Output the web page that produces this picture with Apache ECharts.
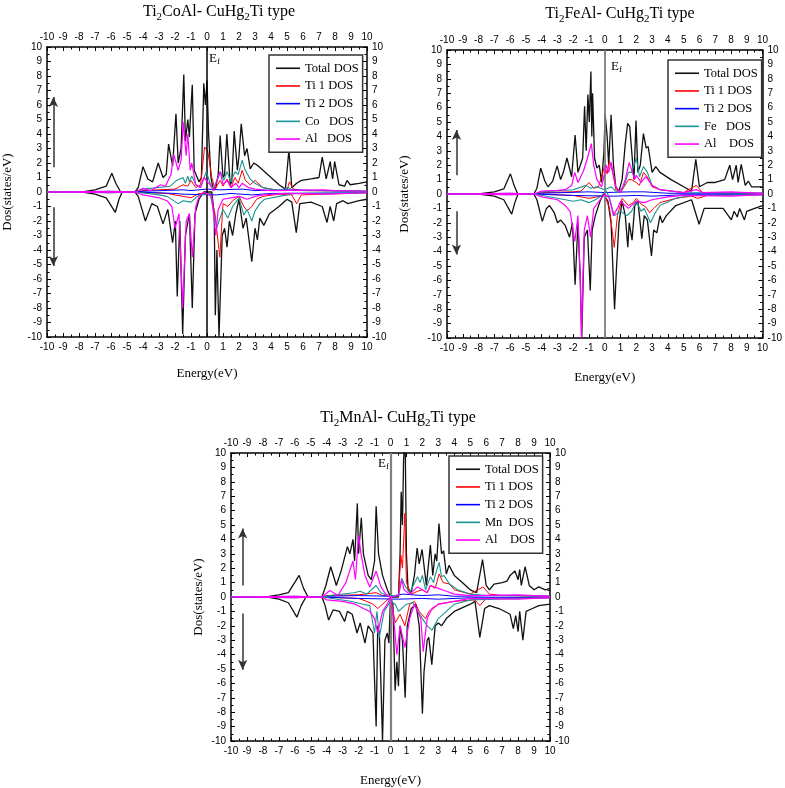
<!DOCTYPE html>
<html><head><meta charset="utf-8">
<script src="https://cdn.jsdelivr.net/npm/echarts@6/dist/echarts.min.js"></script>
<style>html,body{margin:0;padding:0;background:#fff}#c{width:785px;height:788px}</style>
</head><body><div id="c"></div>
<script>
// ---------- Ti2CoAl ----------
const coTotUp=[[-10,0],[-7.8,0],[-7,0.15],[-6.3,0.4],[-5.95,1.3],[-5.7,0.6],[-5.4,0],[-4.5,0],[-4.3,0.3],[-4.0,1.75],[-3.7,0.9],[-3.4,0.7],[-3.05,2.0],[-2.75,1.0],[-2.55,1.2],[-2.4,3.3],[-2.15,1.8],[-1.94,5.4],[-1.8,2.0],[-1.62,3.0],[-1.45,8.1],[-1.35,3.5],[-1.2,5.0],[-1.1,3.8],[-0.92,7.4],[-0.8,1.5],[-0.5,0.7],[-0.35,1.0],[-0.2,7.5],[-0.1,6.0],[0.0,7.7],[0.1,4.0],[0.25,1.0],[0.4,0.1],[0.55,0.3],[0.7,1.2],[0.82,3.9],[1.0,1.0],[1.1,1.2],[1.24,4.0],[1.45,0.5],[1.55,0.7],[1.7,4.2],[1.9,1.5],[2.0,2.5],[2.14,4.7],[2.35,2.5],[2.5,3.0],[2.7,1.6],[2.92,2.0],[3.2,1.8],[3.5,1.5],[4.0,1.0],[4.5,0.5],[4.9,0.2],[5.12,2.9],[5.3,0.3],[5.6,0.6],[5.9,0.8],[6.5,0.9],[7.0,1.0],[7.2,2.4],[7.45,0.9],[7.7,2.1],[7.85,0.9],[7.98,2.1],[8.25,0.5],[8.6,0.4],[8.75,0.8],[8.95,0.5],[9.5,0.6],[10,0.7]];
const coTotDn=[[-10,0],[-7.8,0],[-7,-0.15],[-6.3,-0.4],[-5.73,-1.4],[-5.5,-0.5],[-5.3,0],[-4.5,0],[-4.3,-0.3],[-3.85,-2.0],[-3.45,-0.8],[-3.1,-1.0],[-2.75,-2.2],[-2.45,-1.2],[-2.15,-3.5],[-1.98,-2.0],[-1.86,-7.2],[-1.7,-2.0],[-1.52,-9.8],[-1.35,-3.0],[-1.1,-1.5],[-0.92,-8.0],[-0.75,-1.5],[-0.5,-0.5],[-0.2,0],[0.3,0],[0.45,-1.5],[0.52,-8.5],[0.62,-4],[0.75,-10],[0.85,-10],[0.95,-3.0],[1.1,-2.5],[1.25,-3.8],[1.4,-2.0],[1.6,-3.0],[1.8,-1.5],[2.0,-0.5],[2.25,-2.5],[2.45,-1.8],[2.8,-4.8],[3.0,-2.5],[3.15,-3.3],[3.3,-1.8],[3.55,-2.3],[3.9,-1.5],[4.5,-1.0],[5.0,-0.5],[5.3,-0.7],[5.58,-2.8],[5.8,-0.8],[6.5,-0.7],[7.2,-1.0],[7.5,-2.1],[7.7,-1.0],[7.92,-2.0],[8.1,-0.8],[8.5,-0.6],[8.8,-0.8],[9.5,-0.6],[10,-0.5]];
const coTi1Up=[[-10,0],[-4.5,0],[-4,0.1],[-2,0.2],[-1.5,0.5],[-1.2,0.4],[-1.0,0.8],[-0.7,0.3],[-0.4,0.5],[-0.15,3.1],[0.05,2.8],[0.3,1.0],[0.5,0.2],[0.83,0.8],[1.0,0.4],[1.25,0.9],[1.5,0.3],[1.75,1.0],[1.95,0.6],[2.2,1.5],[2.4,0.8],[2.5,0.9],[2.7,0.5],[3.0,0.8],[3.5,0.3],[4.5,0.1],[5.0,0.1],[5.15,0.7],[5.4,0.2],[6,0.1],[10,0.05]];
const coTi2Up=[[-10,0],[-4.5,0],[-4,0.05],[-1.5,0.15],[-1,0.1],[0,0.2],[0.8,0.15],[2.2,0.2],[3,0.1],[5.1,0.15],[7.3,0.1],[10,0.05]];
const coXUp=[[-10,0],[-6,0.05],[-4.5,0],[-4,0.2],[-2.3,0.4],[-1.9,0.8],[-1.5,1.0],[-1.35,0.6],[-1.2,1.1],[-1.1,0.7],[-0.95,1.1],[-0.7,0.5],[-0.4,0.3],[-0.05,1.4],[0.2,0.6],[0.4,0.2],[0.83,1.4],[1.05,0.8],[1.25,1.4],[1.5,0.7],[1.75,1.4],[1.95,1.2],[2.2,2.2],[2.35,1.6],[2.5,1.3],[2.7,0.9],[3.0,0.6],[3.5,0.3],[4.5,0.1],[5.1,0.3],[5.4,0.1],[10,0.05]];
const coAlUp=[[-10,0],[-6,0.05],[-4.5,0],[-4.0,0.25],[-3.5,0.1],[-2.9,0.5],[-2.6,0.4],[-2.25,1.2],[-2.08,2.6],[-1.8,1.5],[-1.62,2.2],[-1.48,4.8],[-1.3,2.5],[-1.2,4.0],[-1.05,1.5],[-0.95,2.0],[-0.7,0.5],[-0.4,0.3],[-0.2,1.0],[0.2,0.5],[0.4,0.1],[0.83,1.4],[1.0,0.5],[1.25,0.8],[1.5,0.3],[1.8,0.6],[2.0,0.3],[2.2,0.6],[2.6,0.3],[3.0,0.2],[4.0,0.1],[7.3,0.15],[8,0.1],[10,0.05]];
const coTi1Dn=[[-10,0],[-4.5,0],[-2.5,-0.1],[-1.5,-0.3],[-1.0,-0.4],[-0.5,-0.1],[0.2,-0.1],[0.5,-1.5],[0.8,-4.5],[1.0,-0.8],[1.3,-1.0],[1.6,-0.6],[2.0,-0.3],[2.3,-1.0],[2.5,-1.3],[2.8,-1.0],[3.1,-0.5],[3.5,-0.3],[4.5,-0.15],[5.3,-0.2],[5.6,-0.8],[5.9,-0.2],[10,-0.05]];
const coTi2Dn=[[-10,0],[-4.5,0],[-2,-0.1],[-1.5,-0.15],[0.6,-0.2],[1.5,-0.1],[2.8,-0.2],[4,-0.1],[10,-0.05]];
const coXDn=[[-10,0],[-6,-0.05],[-4.5,0],[-3,-0.2],[-2.5,-0.3],[-1.8,-0.8],[-1.5,-0.6],[-1.0,-0.7],[-0.5,-0.2],[0.2,-0.1],[0.6,-2.5],[1.0,-1.2],[1.3,-1.8],[1.6,-1.0],[2.0,-0.4],[2.3,-1.6],[2.5,-1.2],[2.8,-2.0],[3.0,-1.3],[3.3,-0.8],[3.6,-0.5],[4.5,-0.3],[5.5,-0.1],[10,-0.05]];
const coAlDn=[[-10,0],[-6,-0.05],[-4.5,0],[-4,-0.2],[-3,-0.4],[-2.5,-0.6],[-2.2,-1.0],[-2.0,-2.5],[-1.75,-1.5],[-1.52,-8.0],[-1.3,-2.0],[-1.1,-1.5],[-0.92,-4.5],[-0.7,-1.0],[-0.5,-0.3],[-0.2,0],[0.3,-0.3],[0.55,-3.0],[0.7,-1.2],[1.0,-0.5],[1.5,-0.4],[2.0,-0.3],[2.5,-0.5],[3.0,-0.3],[3.5,-0.2],[5,-0.1],[7.5,-0.15],[10,-0.05]];
// ---------- Ti2FeAl ----------
const feTotUp=[[-10,0],[-8,0],[-7,0.15],[-6.4,0.35],[-5.98,1.4],[-5.75,0.6],[-5.52,0],[-4.5,0],[-4.3,0.4],[-4.06,1.8],[-3.8,0.9],[-3.6,0.5],[-3.3,0.9],[-3.02,1.95],[-2.8,1.0],[-2.6,1.6],[-2.4,2.5],[-2.1,1.2],[-1.88,4.1],[-1.7,1.5],[-1.4,2.5],[-1.28,6.1],[-1.18,3.0],[-1.07,6.9],[-0.98,5.0],[-0.88,8.5],[-0.82,4.0],[-0.77,7.0],[-0.65,2.5],[-0.5,1.8],[-0.35,2.0],[-0.2,0.8],[-0.05,3.0],[0.02,5.6],[0.15,4.0],[0.25,2.0],[0.4,5.5],[0.55,2.0],[0.7,0.5],[0.9,0.2],[1.1,1.0],[1.3,3.5],[1.45,4.9],[1.58,4.7],[1.7,4.8],[1.85,1.0],[1.98,5.1],[2.1,1.5],[2.25,2.0],[2.45,4.2],[2.62,3.2],[2.75,3.3],[3.0,1.5],[3.23,1.9],[3.5,1.5],[4.2,1.0],[5.0,0.5],[5.5,0.2],[5.77,2.4],[6.0,0.5],[6.5,0.8],[7.0,0.8],[7.6,1.0],[7.92,2.0],[8.1,1.0],[8.33,2.0],[8.45,0.8],[8.65,2.05],[8.9,0.6],[9.1,0.9],[9.3,0.5],[10,0.5]];
const feTotDn=[[-10,0],[-8,0],[-7,-0.15],[-6.4,-0.4],[-5.9,-1.4],[-5.7,-0.6],[-5.5,0],[-4.5,0],[-4.3,-0.4],[-3.96,-1.9],[-3.7,-1.0],[-3.5,-0.8],[-3.2,-1.3],[-3.0,-2.0],[-2.8,-1.8],[-2.5,-2.2],[-2.23,-3.0],[-2.05,-2.0],[-1.88,-6.3],[-1.7,-2.0],[-1.55,-6],[-1.46,-10],[-1.3,-3.0],[-1.1,-2.5],[-0.92,-6.7],[-0.8,-2.5],[-0.6,-1.5],[-0.3,-0.5],[-0.1,0],[0.2,-0.5],[0.4,-2.0],[0.62,-8.0],[0.75,-5.0],[0.9,-2.0],[1.1,-0.5],[1.3,-1.5],[1.46,-3.7],[1.55,-2.0],[1.73,-3.2],[1.9,-0.8],[2.1,-0.5],[2.35,-3.1],[2.5,-1.5],[2.7,-1.8],[2.96,-4.3],[3.1,-2.5],[3.3,-2.7],[3.5,-1.5],[3.65,-2.0],[3.9,-1.5],[4.5,-0.8],[5.5,-0.4],[5.98,-2.1],[6.3,-1.0],[7.0,-1.0],[7.5,-1.0],[8.02,-1.8],[8.2,-1.2],[8.4,-1.6],[8.55,-1.0],[8.85,-1.8],[9.0,-1.2],[9.5,-1.0],[10,-0.8]];
const feTi1Up=[[-10,0],[-4.5,0],[-4,0.1],[-2,0.15],[-1.5,0.2],[-1.0,0.8],[-0.7,0.4],[-0.4,0.5],[-0.2,1.2],[0.0,2.0],[0.15,1.4],[0.3,2.3],[0.5,1.5],[0.7,0.3],[1.0,0.1],[1.5,1.0],[1.7,1.0],[2.0,0.8],[2.2,0.6],[2.45,1.5],[2.7,1.2],[3.0,0.5],[3.5,0.3],[5.0,0.1],[5.8,0.6],[6.2,0.1],[10,0.05]];
const feTi2Up=[[-10,0],[-4.5,0],[-4,0.05],[-1,0.15],[0,0.1],[1.6,0.15],[2.5,0.15],[4,0.05],[10,0.05]];
const feXUp=[[-10,0],[-6,0.05],[-4.5,0],[-4,0.15],[-2,0.3],[-1.2,0.6],[-0.9,0.4],[-0.5,0.5],[0,0.3],[0.4,0.5],[0.8,0.1],[1.2,0.5],[1.5,1.5],[1.7,1.5],[2.0,2.5],[2.2,1.2],[2.45,1.9],[2.7,1.5],[3.0,0.6],[3.5,0.3],[5,0.1],[10,0.05]];
const feAlUp=[[-10,0],[-6,0.05],[-4.5,0],[-4,0.2],[-3,0.25],[-2.5,0.3],[-2.1,0.6],[-1.9,1.5],[-1.7,0.8],[-1.35,1.6],[-1.1,2.5],[-0.85,3.5],[-0.7,2.0],[-0.5,1.0],[-0.2,0.5],[0.1,2.0],[0.25,1.5],[0.4,2.2],[0.7,0.5],[1.0,0.1],[1.3,1.0],[1.55,2.2],[1.9,1.0],[2.0,1.3],[2.3,0.8],[2.6,1.2],[3.0,0.6],[3.5,0.3],[5.0,0.1],[5.8,0.3],[6.2,0.1],[8,0.15],[10,0.05]];
const feTi1Dn=[[-10,0],[-4.5,0],[-2,-0.1],[-1.0,-0.3],[-0.5,-0.2],[0,-0.1],[0.3,-1.0],[0.6,-3.7],[0.8,-1.5],[1.1,-0.3],[1.5,-0.8],[1.8,-0.6],[2.0,-0.3],[2.3,-0.7],[2.6,-0.9],[2.85,-1.3],[3.1,-1.0],[3.5,-0.6],[4.5,-0.3],[5.5,-0.15],[5.9,-0.3],[6.5,-0.1],[10,-0.05]];
const feTi2Dn=[[-10,0],[-4.5,0],[-2,-0.1],[0.6,-0.15],[2,-0.1],[3,-0.15],[5,-0.05],[10,-0.05]];
const feXDn=[[-10,0],[-6,-0.05],[-4.5,0],[-3,-0.3],[-2,-0.5],[-1.5,-0.4],[-1.0,-0.6],[-0.6,-0.4],[-0.3,-0.2],[0.1,0.2],[0.3,-0.3],[0.6,-1.5],[1.0,-1.2],[1.4,-1.5],[1.7,-1.2],[2.0,-0.5],[2.3,-1.2],[2.5,-1.0],[2.9,-2.0],[3.2,-1.3],[3.5,-0.8],[4.5,-0.3],[5.5,-0.1],[10,-0.05]];
const feAlDn=[[-10,0],[-6,-0.05],[-4.5,0],[-4,-0.2],[-3,-0.4],[-2.5,-0.8],[-2.2,-1.2],[-1.9,-3.3],[-1.7,-1.5],[-1.55,-6],[-1.48,-10],[-1.3,-2.5],[-1.1,-1.5],[-0.9,-3.0],[-0.7,-1.0],[-0.3,-0.4],[0,0],[0.3,-0.3],[0.55,-1.5],[0.8,-1.0],[1.0,-0.5],[1.5,-1.0],[2.0,-0.5],[2.5,-0.6],[3.0,-0.4],[4,-0.2],[5,-0.1],[8,-0.15],[10,-0.05]];
// ---------- Ti2MnAl ----------
const mnTotUp=[[-10,0],[-7.8,0],[-7,0.15],[-6.4,0.3],[-5.73,1.5],[-5.45,0.6],[-5.17,0],[-4.3,0],[-4.05,0.8],[-3.75,2.1],[-3.5,1.2],[-3.4,0.8],[-3.1,1.8],[-2.7,3.5],[-2.55,3.0],[-2.35,4.0],[-2.25,2.5],[-2.08,6.5],[-2.0,3.0],[-1.83,5.5],[-1.7,3.0],[-1.4,1.5],[-1.2,1.2],[-1.0,2.5],[-0.9,6.3],[-0.75,3.0],[-0.5,1.5],[-0.2,0.5],[0,0],[0.5,0],[0.6,3.0],[0.67,7.3],[0.75,5.0],[0.82,9.5],[0.87,10.5],[0.93,9.8],[1.0,3.0],[1.1,0.5],[1.3,0.3],[1.5,1.5],[1.67,3.4],[1.8,2.3],[1.98,3.3],[2.25,0.8],[2.5,3.6],[2.65,1.5],[2.8,3.0],[2.9,2.5],[3.04,5.1],[3.2,3.0],[3.33,3.2],[3.5,1.6],[3.67,2.2],[4.0,1.5],[4.5,1.0],[5.0,0.5],[5.4,0.3],[5.77,2.6],[6.0,0.8],[6.2,0.5],[6.5,0.9],[7.0,1.0],[7.3,1.1],[7.5,1.5],[7.8,1.8],[8.0,1.2],[8.1,1.9],[8.2,0.8],[8.44,2.1],[8.7,0.8],[9.0,0.5],[9.3,0.7],[9.7,0.5],[10,0.6]];
const mnTotDn=[[-10,0],[-7.7,0],[-7,-0.15],[-6.4,-0.4],[-5.87,-1.4],[-5.6,-0.6],[-5.3,0],[-4.3,0],[-4.1,-0.6],[-3.88,-1.6],[-3.6,-0.9],[-3.5,-0.8],[-3.2,-1.0],[-2.88,-1.7],[-2.7,-1.0],[-2.4,-1.2],[-2.1,-2.5],[-1.9,-1.8],[-1.6,-3.2],[-1.4,-2.0],[-1.1,-2.5],[-0.9,-9.0],[-0.8,-2.0],[-0.7,-2.5],[-0.6,-6],[-0.5,-10],[-0.35,-3.0],[-0.2,-2.5],[-0.1,-3.2],[0,0],[0.15,-0.5],[0.29,-6.5],[0.4,-4.5],[0.5,-6.2],[0.6,-2.0],[0.75,-3.0],[0.92,-7.0],[1.05,-2.0],[1.3,-0.8],[1.6,-0.5],[1.8,-2.0],[1.9,-5],[2.0,-8.1],[2.1,-5.2],[2.3,-3.0],[2.4,-2.8],[2.59,-4.7],[2.8,-2.0],[3.0,-1.8],[3.2,-2.0],[3.5,-1.5],[4.0,-1.0],[5.0,-0.5],[5.3,-0.3],[5.6,-2.8],[5.9,-0.8],[6.2,-0.6],[6.8,-0.8],[7.5,-1.2],[7.7,-2.2],[7.85,-1.3],[8.0,-2.4],[8.1,-1.0],[8.3,-3.0],[8.5,-1.0],[8.9,-0.8],[9.3,-0.6],[10,-0.5]];
const mnTi1Up=[[-10,0],[-4.3,0],[-4,0.1],[-2,0.15],[-0.9,0.3],[-0.5,0.1],[0.5,0.1],[0.65,2.9],[0.75,2.0],[0.9,5.8],[1.0,1.0],[1.3,0.2],[1.7,0.4],[2.0,0.5],[2.3,0.3],[2.5,0.8],[2.8,0.6],[3.05,1.6],[3.3,1.0],[3.7,0.9],[4.0,0.5],[5.0,0.2],[5.8,0.7],[6.2,0.2],[7,0.1],[10,0.05]];
const mnTi2Up=[[-10,0],[-4.3,0],[-4,0.05],[-2,0.1],[0,0.05],[0.8,0.2],[2,0.1],[3,0.15],[4,0.05],[8,0.1],[10,0.05]];
const mnXUp=[[-10,0],[-6,0.05],[-4.3,0],[-3.8,0.1],[-2.3,0.3],[-1.9,0.4],[-1.5,0.2],[-0.9,0.8],[-0.6,0.3],[-0.2,0.1],[0.5,0.1],[0.7,1.3],[0.9,0.8],[1.2,0.3],[1.7,1.4],[1.85,1.0],[2.0,1.5],[2.2,0.5],[2.5,1.4],[2.7,1.0],[2.8,1.5],[3.05,2.4],[3.2,1.4],[3.35,1.5],[3.7,0.9],[4.2,0.5],[5.0,0.2],[6,0.1],[10,0.05]];
const mnAlUp=[[-10,0],[-6,0.05],[-4.3,0],[-3.8,0.45],[-3.3,0.1],[-2.8,1.0],[-2.35,2.5],[-2.2,1.2],[-2.0,4.3],[-1.85,3.0],[-1.6,1.5],[-1.3,0.7],[-0.9,1.8],[-0.6,0.7],[-0.3,0.2],[0,0],[0.5,0.1],[0.7,1.2],[0.85,0.5],[1.2,0.2],[1.7,0.7],[2.0,0.5],[2.3,0.3],[2.5,0.8],[3.0,0.6],[3.5,0.4],[4.0,0.2],[5,0.1],[8,0.15],[10,0.05]];
const mnTi1Dn=[[-10,0],[-4.3,0],[-2,-0.1],[-1.5,-0.3],[-1.1,-0.5],[-0.8,-0.8],[-0.3,-0.3],[0,0],[0.3,-1.8],[0.6,-1.2],[0.9,-2.0],[1.2,-0.5],[1.5,-0.3],[1.8,-1.0],[2.2,-1.5],[2.4,-1.0],[2.7,-0.8],[3.0,-0.5],[4,-0.3],[5.3,-0.2],[5.6,-0.6],[6.0,-0.1],[10,-0.05]];
const mnTi2Dn=[[-10,0],[-4.3,0],[-2,-0.1],[0.5,-0.15],[2,-0.1],[3,-0.15],[5,-0.05],[10,-0.05]];
const mnXDn=[[-10,0],[-6,-0.05],[-4.3,0],[-2.5,-0.3],[-1.7,-0.5],[-1.3,-0.6],[-1.0,-2.5],[-0.85,-1.0],[-0.7,-2.8],[-0.4,-1.0],[0,-0.3],[0.3,-0.5],[0.5,-1.0],[1.0,-0.5],[1.4,-0.4],[2.0,-1.5],[2.3,-2.0],[2.6,-2.3],[3.0,-1.5],[3.5,-1.0],[4.0,-0.5],[5.0,-0.2],[10,-0.05]];
const mnAlDn=[[-10,0],[-6,-0.05],[-4.3,0],[-4,-0.2],[-3,-0.3],[-2.2,-0.5],[-1.7,-0.8],[-1.3,-1.0],[-1.0,-1.5],[-0.8,-2.5],[-0.5,-1.0],[-0.2,-0.5],[0,0],[0.2,-1.5],[0.4,-4.0],[0.6,-2.0],[0.9,-3.5],[1.2,-1.5],[1.5,-0.5],[1.9,-1.5],[2.05,-3.8],[2.3,-1.5],[2.6,-0.8],[3.0,-0.5],[4.0,-0.3],[5.0,-0.1],[8,-0.15],[10,-0.05]];

const legendNames=[
  ['Total DOS','Ti 1 DOS','Ti 2 DOS','Co   DOS','Al   DOS'],
  ['Total DOS','Ti 1 DOS','Ti 2 DOS','Fe   DOS','Al    DOS'],
  ['Total DOS','Ti 1 DOS','Ti 2 DOS','Mn  DOS','Al    DOS']
];
const compounds=[['Ti','CoAl'],['Ti','FeAl'],['Ti','MnAl']];
const panelData=[
  [[coTotUp,coTotDn],[coTi1Up,coTi1Dn],[coTi2Up,coTi2Dn],[coXUp,coXDn],[coAlUp,coAlDn]],
  [[feTotUp,feTotDn],[feTi1Up,feTi1Dn],[feTi2Up,feTi2Dn],[feXUp,feXDn],[feAlUp,feAlDn]],
  [[mnTotUp,mnTotDn],[mnTi1Up,mnTi1Dn],[mnTi2Up,mnTi2Dn],[mnXUp,mnXDn],[mnAlUp,mnAlDn]]
];
// spin arrows [x, upTail, upTip, dnTail, dnTip]
const arrows=[[-9.6,1.7,6.55,-1.05,-5.1],[-9.4,1.3,4.45,-1.2,-4.2],[-9.27,0.8,4.76,-1.15,-5.06]];

const grids=[
  {left:47,top:47,width:320,height:290},
  {left:447,top:50,width:320,height:288},
  {left:231,top:453,width:319,height:290}
];
const colors=['#111111','#ff0000','#0000ff','#1a9494','#ff00ff'];
const widths=[1.3,1,1,1.1,1.2];
const efColors=['#000000','#808080','#808080'];
const efWidths=[1.5,1.8,2.2];
const xNameGap=[30,33,33];
const yNameGap=[33,36,26];
const legendPos=[[269,55],[668,60],[449,456]];
const titlePos=[[214,-4],[615,-2],[393,402]];
const efPos=[[209,52],[611,60],[378,457]];

const serif='"Liberation Serif","Times New Roman",serif';
const sans='"Liberation Sans",Arial,sans-serif';

const xAxes=[],yAxes=[],series=[],legends=[],titles=[],graphics=[];
function axisCommon(g){
  return {gridIndex:g,type:'value',min:-10,max:10,interval:1,
    axisLine:{onZero:false,lineStyle:{color:'#000',width:1.5}},
    axisTick:{inside:true,length:4,lineStyle:{color:'#000',width:1}},
    minorTick:{show:true,splitNumber:2,length:2.5,lineStyle:{color:'#000',width:1}},
    splitLine:{show:false},
    axisLabel:{color:'#000',fontFamily:sans,fontSize:10,margin:5}};
}
grids.forEach((g,p)=>{
  xAxes.push(Object.assign(axisCommon(p),{position:'bottom',name:'Energy(eV)',nameLocation:'middle',nameGap:xNameGap[p],
    nameTextStyle:{fontFamily:serif,fontSize:13,color:'#000'}}));
  xAxes.push(Object.assign(axisCommon(p),{position:'top'}));
  yAxes.push(Object.assign(axisCommon(p),{position:'left',name:'Dos(states/eV)',nameLocation:'middle',nameGap:yNameGap[p],nameRotate:90,
    nameTextStyle:{fontFamily:serif,fontSize:13,color:'#000'}}));
  yAxes.push(Object.assign(axisCommon(p),{position:'right'}));
  panelData[p].forEach((pair,s)=>{
    pair.forEach((arr,d)=>{
      const ser={type:'line',name:legendNames[p][s],xAxisIndex:2*p,yAxisIndex:2*p,data:arr,
        symbol:'none',clip:true,animation:false,z:2+s,
        lineStyle:{color:colors[s],width:widths[s]},itemStyle:{color:colors[s]}};
      if(s===0&&d===0){
        const a=arrows[p];
        ser.markLine={silent:true,animation:false,label:{show:false},symbolSize:[7,10],
          data:[
            [{xAxis:0,yAxis:-10,symbol:'none',lineStyle:{color:efColors[p],width:efWidths[p],type:'solid'}},
             {xAxis:0,yAxis:10,symbol:'none'}],
            [{coord:[a[0],a[1]],symbol:'none',lineStyle:{color:'#333',width:1.5,type:'solid'}},{coord:[a[0],a[2]],symbol:'arrow'}],
            [{coord:[a[0],a[3]],symbol:'none',lineStyle:{color:'#333',width:1.5,type:'solid'}},{coord:[a[0],a[4]],symbol:'arrow'}]
          ]};
      }
      series.push(ser);
    });
  });
  legends.push({orient:'vertical',left:legendPos[p][0],top:legendPos[p][1],
    data:legendNames[p].map(n=>({name:n,icon:'rect'})),
    itemWidth:24,itemHeight:1.6,itemGap:3.2,padding:[6,4,6,7],
    borderColor:'#333',borderWidth:1.5,backgroundColor:'#fff',
    textStyle:{fontFamily:serif,fontSize:12.5,color:'#000',lineHeight:14.5},selectedMode:false});
  titles.push({text:'{a|'+compounds[p][0]+'}{b|2}{a|'+compounds[p][1]+'- CuHg}{b|2}{a|Ti type}',
    left:titlePos[p][0],top:titlePos[p][1],textAlign:'center',
    textStyle:{fontWeight:'normal',rich:{a:{fontFamily:serif,fontSize:16,fontWeight:'normal',color:'#000',lineHeight:22},
      b:{fontFamily:serif,fontSize:11,fontWeight:'normal',color:'#000',lineHeight:11,verticalAlign:'bottom'}}}});
  graphics.push({type:'text',left:efPos[p][0],top:efPos[p][1],z:100,
    style:{text:'{e|E}{f|f}',rich:{e:{fontFamily:serif,fontSize:13,fill:'#000',lineHeight:16},
      f:{fontFamily:serif,fontSize:9,fill:'#000',lineHeight:9,verticalAlign:'bottom'}}}});
});

const chart=echarts.init(document.getElementById('c'),null,{renderer:'canvas'});
chart.setOption({
  animation:false,backgroundColor:'#fff',
  title:titles,grid:grids,xAxis:xAxes,yAxis:yAxes,legend:legends,series:series,graphic:graphics
});
</script></body></html>
